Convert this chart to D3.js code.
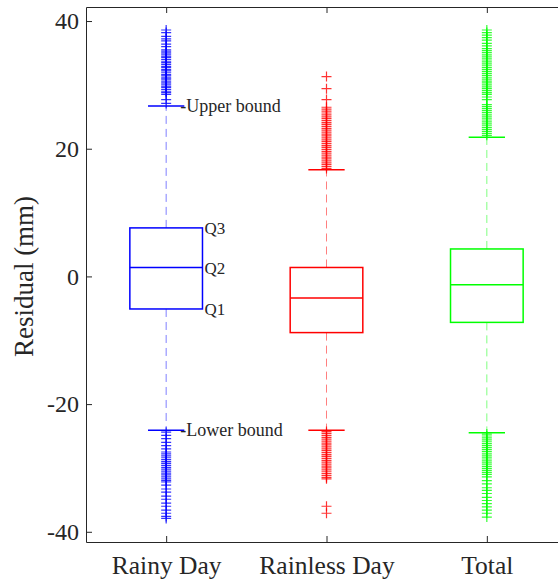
<!DOCTYPE html>
<html><head><meta charset="utf-8">
<script src="https://cdn.jsdelivr.net/npm/d3@7"></script>
<style>body{margin:0;background:#fff}svg{display:block}text{font-family:"Liberation Serif","Times New Roman",serif;fill:#262626}</style>
</head><body><svg id="c" width="558" height="580"></svg>
<script>
const categories = ["Rainy Day", "Rainless Day", "Total"];
const colors = ["#0000ff", "#ff0000", "#00ff00"];
const q1 = [-5.1, -8.8, -7.2];
const median = [1.4, -3.4, -1.3];
const q3 = [7.6, 1.4, 4.3];
const upperWhisker = [26.7, 16.7, 21.8];
const lowerWhisker = [-24.1, -24.1, -24.5];
const yTicks = [-40, -20, 0, 20, 40];
const outliersRainy = [38.6, 38.2, 37.6, 37.2, 36.9, 36.4, 36.0, 35.5, 35.3, 35.0, 34.8, 34.5, 34.3, 34.0, 33.7, 33.5, 33.2, 32.9, 32.7, 32.4, 32.2, 31.9, 31.6, 31.4, 31.1, 30.9, 30.6, 30.3, 30.1, 29.8, 29.6, 29.3, 29.0, 28.8, 28.5, 27.7, 27.1,
  -24.4, -24.9, -25.4, -26.0, -26.5, -27.0, -27.5, -27.8, -28.1, -28.4, -28.7, -29.0, -29.3, -29.6, -29.9, -30.2, -30.5, -30.8, -31.1, -31.4, -31.7, -32.0, -32.2, -32.7, -33.3, -33.8, -34.4, -34.9, -35.5, -36.0, -36.6, -37.1, -37.6, -37.9];
const outliersRainless = [31.3, 29.4, 27.7, 26.5, 26.2, 25.9, 25.6, 25.3, 25.0, 24.7, 24.4, 24.1, 23.8, 23.5, 23.2, 22.9, 22.6, 22.3, 22.0, 21.7, 21.4, 21.1, 20.8, 20.5, 20.2, 19.9, 19.6, 19.3, 19.0, 18.7, 18.4, 18.1, 17.8, 17.5, 17.2, 16.9,
  -24.3, -24.6, -24.9, -25.2, -25.5, -25.8, -26.1, -26.4, -26.7, -27.0, -27.3, -27.6, -27.9, -28.2, -28.5, -28.8, -29.1, -29.4, -29.7, -30.0, -30.3, -30.6, -30.9, -31.2, -31.5, -31.7, -36.0, -37.1];
const outliersTotal = [38.6, 38.2, 37.8, 37.4, 37.0, 36.5, 36.1, 35.7, 35.4, 35.1, 34.8, 34.5, 34.2, 33.9, 33.6, 33.3, 33.0, 32.7, 32.4, 32.1, 31.8, 31.5, 31.2, 30.9, 30.6, 30.3, 30.0, 29.7, 29.4, 29.1, 28.8, 28.5, 28.1, 27.7, 26.9, 26.6, 26.3, 26.0, 25.7, 25.4, 25.1, 24.8, 24.5, 24.2, 23.9, 23.6, 23.3, 23.0, 22.7, 22.4, 22.1,
  -24.7, -25.0, -25.3, -25.6, -25.9, -26.2, -26.5, -26.8, -27.1, -27.4, -27.7, -28.0, -28.3, -28.6, -28.9, -29.2, -29.5, -29.8, -30.1, -30.4, -30.7, -31.0, -31.4, -32.0, -32.5, -33.1, -33.5, -34.0, -34.6, -35.1, -35.6, -36.1, -36.6, -37.1, -37.7];
const outliers = [outliersRainy, outliersRainless, outliersTotal];

const svg = d3.select("#c");
const L = 86, R = 567, T = 7, B = 542;
const x = d3.scaleLinear().domain([0.5, 3.5]).range([L, R]);
const y = d3.scaleLinear().domain([-41.6, 42.2]).range([B, T]);
const boxW = 0.453, capW = boxW / 2;
const ink = "#262626";
const font = "'Liberation Serif', 'Times New Roman', serif";

// axes
const gl = svg.append("g").attr("transform", `translate(${L},0)`)
  .call(d3.axisLeft(y).tickValues(yTicks).tickFormat(d => String(d)).tickSize(-6).tickPadding(7).tickSizeOuter(0));
gl.select(".domain").attr("stroke", ink);
gl.selectAll(".tick line").attr("stroke", ink);
gl.selectAll(".tick text").attr("font-size", 24).attr("fill", ink).attr("font-family", font);

const gb = svg.append("g").attr("transform", `translate(0,${B})`)
  .call(d3.axisBottom(x).tickValues([1, 2, 3]).tickFormat((d, i) => categories[i]).tickSize(-6).tickPadding(14).tickSizeOuter(0));
gb.select(".domain").attr("stroke", ink);
gb.selectAll(".tick line").attr("stroke", ink);
gb.selectAll(".tick text").attr("font-size", 25.5).attr("fill", ink).attr("font-family", font);

const gt = svg.append("g").attr("transform", `translate(0,${T})`)
  .call(d3.axisTop(x).tickValues([1, 2, 3]).tickFormat("").tickSize(-6).tickSizeOuter(0));
gt.select(".domain").attr("stroke", ink);
gt.selectAll(".tick line").attr("stroke", ink);

svg.append("text").attr("transform", `translate(33,${(T + B) / 2 + 2}) rotate(-90)`)
  .attr("text-anchor", "middle").attr("font-size", 27).text("Residual (mm)");

// boxes
categories.forEach((c, i) => {
  const cx = x(i + 1), col = colors[i];
  const g = svg.append("g");
  // whiskers
  g.append("line").attr("x1", cx).attr("x2", cx).attr("y1", y(q3[i])).attr("y2", y(upperWhisker[i]))
    .attr("stroke", col).attr("stroke-opacity", 0.5).attr("stroke-dasharray", "8,5");
  g.append("line").attr("x1", cx).attr("x2", cx).attr("y1", y(q1[i])).attr("y2", y(lowerWhisker[i]))
    .attr("stroke", col).attr("stroke-opacity", 0.5).attr("stroke-dasharray", "8,5");
  // caps
  [upperWhisker[i], lowerWhisker[i]].forEach(v => {
    g.append("line").attr("x1", x(i + 1 - capW / 2)).attr("x2", x(i + 1 + capW / 2))
      .attr("y1", y(v)).attr("y2", y(v)).attr("stroke", col).attr("stroke-width", 1.5);
  });
  // box
  g.append("rect").attr("x", x(i + 1 - boxW / 2)).attr("width", x(i + 1 + boxW / 2) - x(i + 1 - boxW / 2))
    .attr("y", y(q3[i])).attr("height", y(q1[i]) - y(q3[i]))
    .attr("fill", "none").attr("stroke", col).attr("stroke-width", 1.5);
  g.append("line").attr("x1", x(i + 1 - boxW / 2)).attr("x2", x(i + 1 + boxW / 2))
    .attr("y1", y(median[i])).attr("y2", y(median[i])).attr("stroke", col).attr("stroke-width", 1.5);
  // outliers
  g.selectAll("path.o").data(outliers[i]).join("path").attr("class", "o")
    .attr("d", d => `M${cx - 5},${y(d)}h10M${cx},${y(d) - 5}v10`)
    .attr("stroke", col).attr("stroke-opacity", 0.8).attr("stroke-width", 1.2).attr("fill", "none");
});

// annotations on Rainy Day
const ax = x(1 + boxW / 2);
svg.append("text").attr("x", x(1 + capW / 2) - 4).attr("y", y(upperWhisker[0])).attr("dy", "0.33em")
  .attr("font-size", 18).text("-Upper bound");
svg.append("text").attr("x", x(1 + capW / 2) - 4).attr("y", y(lowerWhisker[0])).attr("dy", "0.33em")
  .attr("font-size", 18).text("-Lower bound");
[["Q3", q3[0]], ["Q2", median[0]], ["Q1", q1[0]]].forEach(([t, v]) => {
  svg.append("text").attr("x", ax + 2).attr("y", y(v)).attr("dy", "0.38em").attr("font-size", 17).text(t);
});
</script></body></html>
